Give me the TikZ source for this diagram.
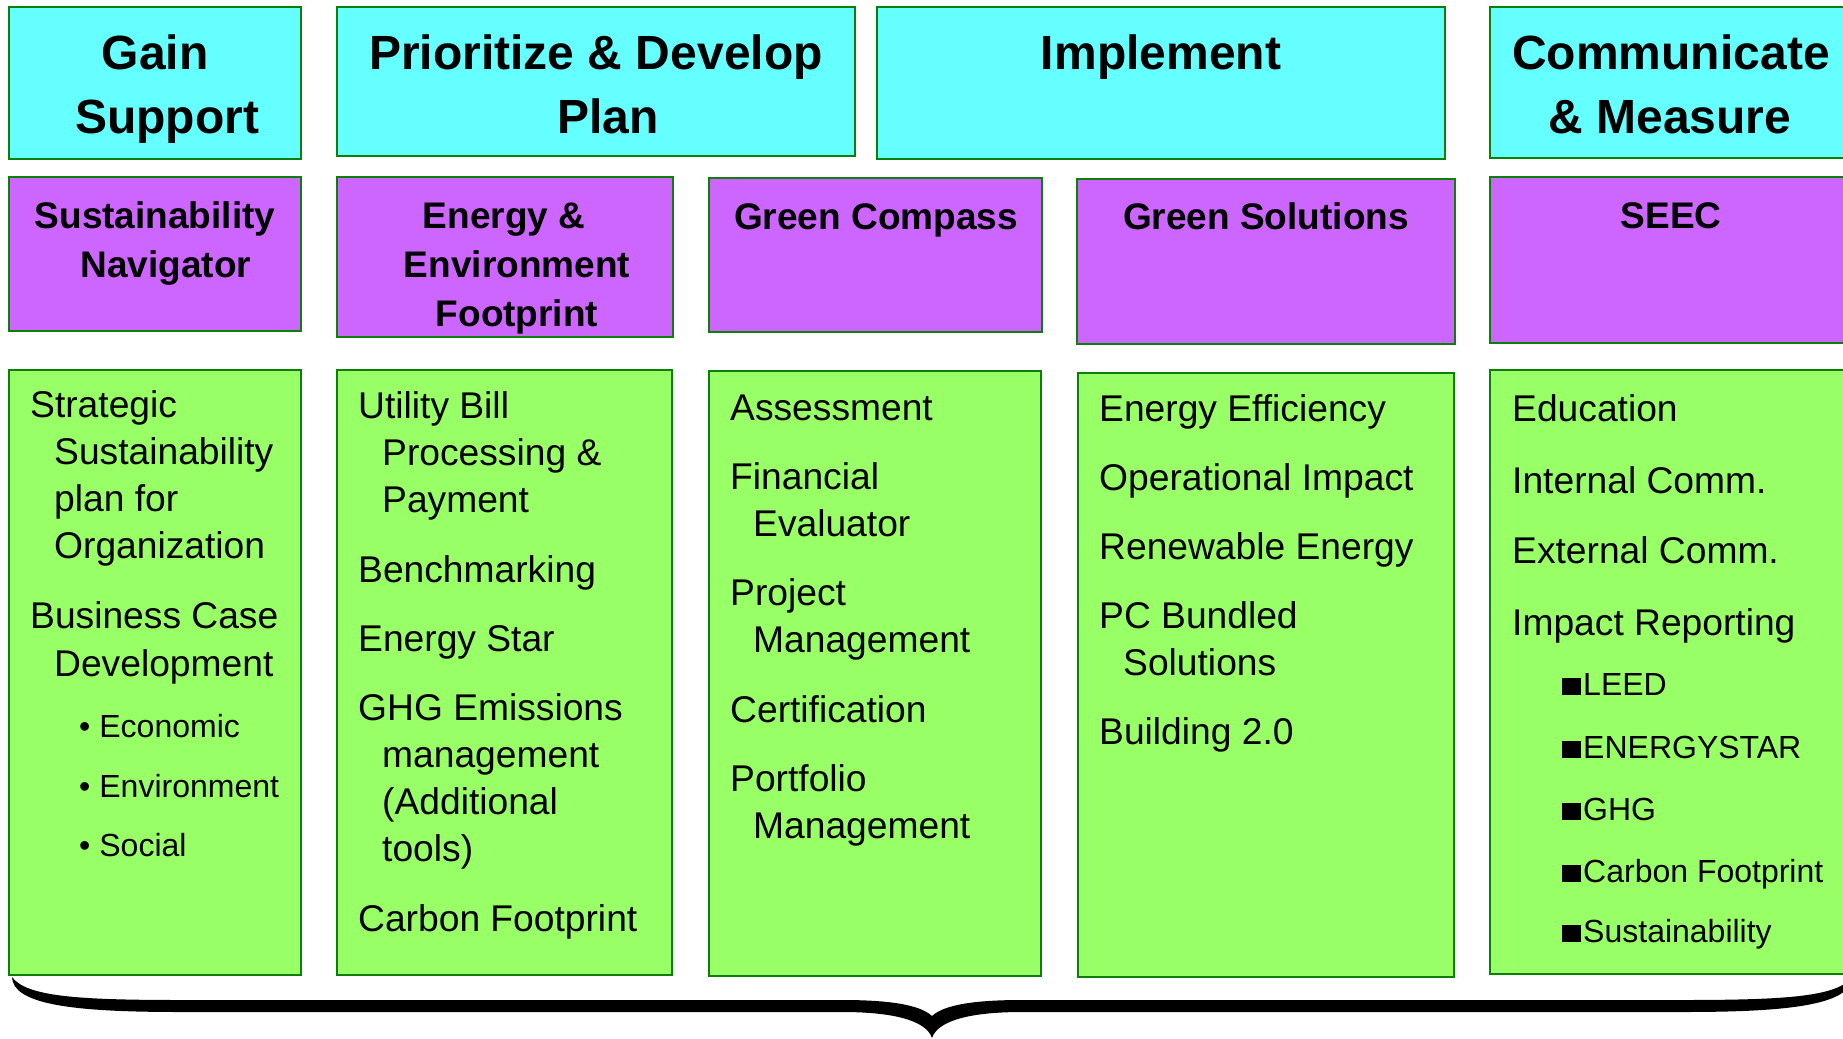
\documentclass[tikz,border=0pt]{standalone}
\usepackage{fontspec}
\setmainfont{Liberation Sans}
\definecolor{phasefill}{HTML}{66FFFF}
\definecolor{toolfill}{HTML}{CC66FF}
\definecolor{listfill}{HTML}{99FF66}
\definecolor{edgegreen}{HTML}{0A800A}
\begin{document}
\begin{tikzpicture}[x=1pt,y=-1pt,
  panel/.style={draw=edgegreen,line width=2.5pt,inner sep=0pt,outer sep=0pt},
  phase/.style={panel,fill=phasefill},
  tool/.style={panel,fill=toolfill},
  list/.style={panel,fill=listfill},
  phasetxt/.style={font={\fontsize{48}{58}\selectfont\bfseries},anchor=base,inner sep=0pt},
  tooltxt/.style={font={\fontsize{37}{45}\selectfont\bfseries},anchor=base,inner sep=0pt},
  itm/.style={font={\fontsize{37.2}{45}\selectfont},anchor=base west,inner sep=0pt},
  subitm/.style={font={\fontsize{32}{40}\selectfont},anchor=base west,inner sep=0pt},
  sqitm/.style={font={\fontsize{32}{39}\selectfont},anchor=base west,inner sep=0pt}]

\useasboundingbox (0,0) rectangle (1843,1038);
\clip (0,0) rectangle (1843,1038);
\fill[white] (0,0) rectangle (1843,1038);

% ---- phase headers ----
\node[phase,minimum width=292pt,minimum height=152pt] (ph1) at (155,83) {};
\node[phase,minimum width=518pt,minimum height=149pt] (ph2) at (596,81.5) {};
\node[phase,minimum width=568pt,minimum height=152pt] (ph3) at (1161,83) {};
\node[phase,minimum width=370pt,minimum height=151pt] (ph4) at (1675,82.5) {};

\node[phasetxt] (ph1a) at (155,70) {Gain};
\node[phasetxt] (ph1b) at (167,133) {Support};
\node[phasetxt] (ph2a) at (596,70) {Prioritize \& Develop};
\node[phasetxt] (ph2b) at (608,133) {Plan};
\node[phasetxt] (ph3a) at (1161,70) {Implement};
\node[phasetxt] (ph4a) at (1671,70) {Communicate};
\node[phasetxt] (ph4b) at (1670,133) {\& Measure};

% ---- tool boxes ----
\node[tool,minimum width=292pt,minimum height=154pt] (tl1) at (155,254) {};
\node[tool,minimum width=336pt,minimum height=160pt] (tl2) at (505,257) {};
\node[tool,minimum width=333pt,minimum height=154pt] (tl3) at (875.5,255) {};
\node[tool,minimum width=378pt,minimum height=165pt] (tl4) at (1266,261.5) {};
\node[tool,minimum width=370pt,minimum height=166pt] (tl5) at (1675,260) {};

\node[tooltxt] (tl1a) at (155,228) {Sustainability};
\node[tooltxt] (tl1b) at (166,277) {Navigator};
\node[tooltxt] (tl2a) at (504,228) {Energy \&};
\node[tooltxt] (tl2b) at (517,277) {Environment};
\node[tooltxt] (tl2c) at (517,326) {Footprint};
\node[tooltxt] (tl3a) at (876,229) {Green Compass};
\node[tooltxt] (tl4a) at (1266,229) {Green Solutions};
\node[tooltxt] (tl5a) at (1671,228) {SEEC};

% ---- offering lists ----
\node[list,minimum width=292pt,minimum height=605pt] (ls1) at (155,672.5) {};
\node[list,minimum width=335pt,minimum height=605pt] (ls2) at (504.5,672.5) {};
\node[list,minimum width=332pt,minimum height=605pt] (ls3) at (875,673.5) {};
\node[list,minimum width=376pt,minimum height=604pt] (ls4) at (1266,675) {};
\node[list,minimum width=370pt,minimum height=604pt] (ls5) at (1675,672) {};

% column 1
\node[itm] (c1a) at (30,417) {Strategic};
\node[itm] (c1b) at (54,464) {Sustainability};
\node[itm] (c1c) at (54,511) {plan for};
\node[itm] (c1d) at (54,558) {Organization};
\node[itm] (c1e) at (30,628) {Business Case};
\node[itm] (c1f) at (54,676) {Development};
\node[subitm] (c1g) at (79,737) {•\kern9pt Economic};
\node[subitm] (c1h) at (79,797) {•\kern9pt Environment};
\node[subitm] (c1i) at (79,856) {•\kern9pt Social};

% column 2
\node[itm] (c2a) at (358,418) {Utility Bill};
\node[itm] (c2b) at (382,465) {Processing \&};
\node[itm] (c2c) at (382,512) {Payment};
\node[itm] (c2d) at (358,582) {Benchmarking};
\node[itm] (c2e) at (358,651) {Energy Star};
\node[itm] (c2f) at (358,720) {GHG Emissions};
\node[itm] (c2g) at (382,767) {management};
\node[itm] (c2h) at (382,814) {(Additional};
\node[itm] (c2i) at (382,861) {tools)};
\node[itm] (c2j) at (358,931) {Carbon Footprint};

% column 3
\node[itm] (c3a) at (730,420) {Assessment};
\node[itm] (c3b) at (730,489) {Financial};
\node[itm] (c3c) at (753,536) {Evaluator};
\node[itm] (c3d) at (730,605) {Project};
\node[itm] (c3e) at (753,652) {Management};
\node[itm] (c3f) at (730,722) {Certification};
\node[itm] (c3g) at (730,791) {Portfolio};
\node[itm] (c3h) at (753,838) {Management};

% column 4
\node[itm] (c4a) at (1099,421) {Energy Efficiency};
\node[itm] (c4b) at (1099,490) {Operational Impact};
\node[itm] (c4c) at (1099,559) {Renewable Energy};
\node[itm] (c4d) at (1099,628) {PC Bundled};
\node[itm] (c4e) at (1123,675) {Solutions};
\node[itm] (c4f) at (1099,744) {Building 2.0};

% column 5
\node[itm] (c5a) at (1512,421) {Education};
\node[itm] (c5b) at (1512,493) {Internal Comm.};
\node[itm] (c5c) at (1512,563) {External Comm.};
\node[itm] (c5d) at (1512,635) {Impact Reporting};
\node[sqitm] (c5e) at (1562,695) {\rule{19pt}{17pt}\kern2pt LEED};
\node[sqitm] (c5f) at (1562,758) {\rule{19pt}{17pt}\kern2pt ENERGYSTAR};
\node[sqitm] (c5g) at (1562,820) {\rule{19pt}{17pt}\kern2pt GHG};
\node[sqitm] (c5h) at (1562,882) {\rule{19pt}{17pt}\kern2pt Carbon Footprint};
\node[sqitm] (c5i) at (1562,942) {\rule{19pt}{17pt}\kern2pt Sustainability};

% ---- grouping brace under all columns ----
\fill[black]
  (12,977) .. controls (13,1004) and (70,1012) .. (180,1012)
  -- (842,1012) .. controls (892,1012) and (926,1020) .. (932,1038)
  .. controls (938,1020) and (972,1012) .. (1022,1012)
  -- (1684,1012) .. controls (1794,1012) and (1851,1004) .. (1852,977)
  .. controls (1838,996) and (1790,1000) .. (1684,1000)
  -- (1022,1000) .. controls (978,1000) and (945,1004) .. (932,1016)
  .. controls (919,1004) and (886,1000) .. (842,1000)
  -- (180,1000) .. controls (74,1000) and (26,996) .. (12,977) -- cycle;
\end{tikzpicture}
\end{document}
